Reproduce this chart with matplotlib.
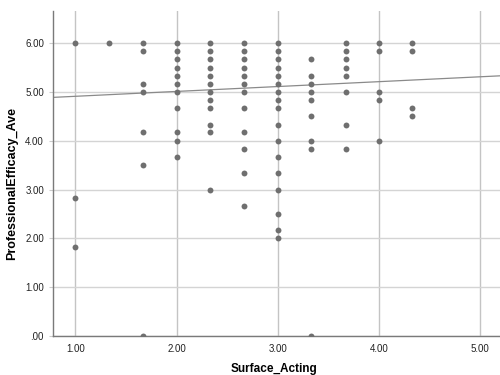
import numpy as np
import matplotlib.pyplot as plt
from matplotlib.ticker import FuncFormatter

plt.rcParams['font.family'] = ['Liberation Sans', 'DejaVu Sans']

# Surface_Acting levels and the ProfessionalEfficacy_Ave values seen at each
surface_acting = [1.00, 1.33, 1.67, 2.00, 2.33, 2.67, 3.00, 3.33, 3.67, 4.00, 4.33]
efficacy = [
    [6.00, 2.83, 1.83],
    [6.00],
    [6.00, 5.83, 5.17, 5.00, 4.17, 3.50, 0.00],
    [6.00, 5.83, 5.67, 5.50, 5.33, 5.17, 5.00, 4.67, 4.17, 4.00, 3.67],
    [6.00, 5.83, 5.67, 5.50, 5.33, 5.17, 5.00, 4.83, 4.67, 4.33, 4.17, 3.00],
    [6.00, 5.83, 5.67, 5.50, 5.33, 5.17, 5.00, 4.67, 4.17, 3.83, 3.33, 2.67],
    [6.00, 5.83, 5.67, 5.50, 5.33, 5.17, 5.00, 4.83, 4.67, 4.33, 4.00, 3.67,
     3.33, 3.00, 2.50, 2.17, 2.00],
    [5.67, 5.33, 5.17, 5.00, 4.83, 4.50, 4.00, 3.83, 0.00],
    [6.00, 5.83, 5.67, 5.50, 5.33, 5.00, 4.33, 3.83],
    [6.00, 5.83, 5.00, 4.83, 4.00],
    [6.00, 5.83, 4.67, 4.50],
]

# fit line
fit_intercept = 4.81
fit_slope = 0.10

x_ticks = [1.00, 2.00, 3.00, 4.00, 5.00]
y_ticks = [0, 1, 2, 3, 4, 5, 6]

xs = []
ys = []
for x, vals in zip(surface_acting, efficacy):
    xs += [x] * len(vals)
    ys += vals

fig = plt.figure(figsize=(5, 3.75), dpi=100)
ax = fig.add_axes([0.106, 0.104, 0.893, 0.867])

ax.scatter(xs, ys, s=18, color='#6f6f6f', linewidths=0, zorder=3, clip_on=True)

xlim = (0.78, 5.19)
ax.set_xlim(*xlim)
ax.set_ylim(0, 6.66)
lx = np.array(xlim)
ax.plot(lx, fit_intercept + fit_slope * lx, color='#8a8a8a', linewidth=0.9, zorder=2)

ax.set_xticks(x_ticks)
ax.set_yticks(y_ticks)
fmt = lambda v, p: ('%.2f' % v).lstrip('0') if v == 0 else '%.2f' % v
ax.xaxis.set_major_formatter(FuncFormatter(fmt))
ax.yaxis.set_major_formatter(FuncFormatter(fmt))
ax.tick_params(axis='both', labelsize=7, colors='#222222', length=3, width=0.8)
ax.tick_params(axis='x', length=0, pad=6)
ax.tick_params(axis='y', color='#cccccc')

ax.grid(True, axis='y', color='#d4d4d4', linewidth=1.0, zorder=0)
ax.grid(True, axis='x', color='#c4c4c4', linewidth=1.0, zorder=0)
ax.set_axisbelow(True)

for side in ['top', 'right']:
    ax.spines[side].set_visible(False)
for side in ['left', 'bottom']:
    ax.spines[side].set_color('#7a7a7a')
    ax.spines[side].set_linewidth(1.0)

ax.set_xlabel('Surface_Acting', fontsize=8.5, fontweight='bold', va='center')
ax.set_ylabel('ProfessionalEfficacy_Ave', fontsize=9, fontweight='bold', va='center')
ax.xaxis.set_label_coords(0.495, -0.101)
ax.yaxis.set_label_coords(-0.092, 0.47)

fig.savefig('out.png', dpi=100)
